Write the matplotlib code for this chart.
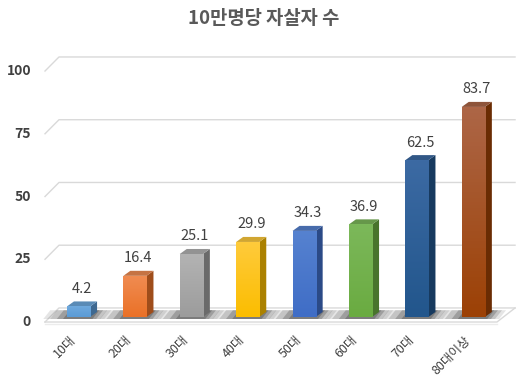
import numpy as np
import matplotlib.pyplot as plt
from matplotlib.patches import Polygon, Rectangle
from matplotlib.colors import to_rgb

plt.rcParams['font.family'] = ['Noto Sans CJK KR', 'DejaVu Sans']

# dados
idades = ['10대', '20대', '30대', '40대', '50대', '60대', '70대', '80대이상']
valores = [4.2, 16.4, 25.1, 29.9, 34.3, 36.9, 62.5, 83.7]
cor_base = ['#5b9bd5', '#ea7127', '#9c9c9c', '#fbbd00', '#3f6dc6', '#6aab41', '#22568c', '#9c4105']
cor_topo = ['#6ea9de', '#f08c52', '#b3b3b3', '#ffcb3c', '#5682d0', '#7cb85a', '#3c6aa3', '#ad6647']
yticks = [0, 25, 50, 75, 100]

# geometria do "3D"
w = 0.41      # largura da face frontal
dx = 0.124    # profundidade em x
dy = 2.0      # profundidade em y
frente = -2.0
fundo = 3.6
x_esq_f, x_esq_t = -0.594, -0.346
x_dir_f, x_dir_t = 7.42, 7.74


def escurece(c, f):
    r, g, b = to_rgb(c)
    return (r * f, g * f, b * f)


fig = plt.figure(figsize=(5.2, 3.82), dpi=100)
ax = fig.add_axes([0, 0, 1, 1])
ax.set_xlim(-1.392, 7.828)
ax.set_ylim(-25.9, 126.3)
ax.axis('off')

# paredes / grade
grade = '#d9d9d9'
for v in yticks:
    ax.plot([x_esq_f, x_esq_t, x_dir_t], [v + frente, v + fundo, v + fundo],
            color=grade, lw=1, zorder=1)
    ax.text(-0.842, v + frente, str(v), ha='right', va='center',
            fontsize=10, fontweight='bold', color='#404040')
ax.plot([x_esq_f, x_dir_f, x_dir_t], [frente, frente, fundo], color=grade, lw=1, zorder=1)
ax.plot([x_esq_f, x_dir_f], [frente - 0.9, frente - 0.9], color='#ececec', lw=1, zorder=1)

# barras
for i, (nome, v) in enumerate(zip(idades, valores)):
    c = i
    x0, x1 = c - w / 2, c + w / 2

    # sombra no piso
    for a, ext in [(0.12, 0.42), (0.18, 0.30), (0.25, 0.18), (0.30, 0.07)]:
        ax.add_patch(Polygon([(x0 - ext, -0.8), (x1 + ext * 0.6, -0.8),
                              (x1 + ext * 0.6 + dx, fundo - 0.9), (x0 - ext + dx, fundo - 0.9)],
                             closed=True, color='#303030', alpha=a, lw=0, zorder=2))

    # face lateral e topo
    ax.add_patch(Polygon([(x1, 0), (x1 + dx, dy), (x1 + dx, v + dy), (x1, v)],
                         closed=True, color=escurece(cor_base[i], 0.68), lw=0, zorder=3))
    ax.add_patch(Polygon([(x0, v), (x1, v), (x1 + dx, v + dy), (x0 + dx, v + dy)],
                         closed=True, color=escurece(cor_topo[i], 0.82), lw=0, zorder=3))

    # face frontal com gradiente
    face = Rectangle((x0, 0), w, v, color=cor_base[i], lw=0, zorder=3)
    ax.add_patch(face)
    c_top = np.array(to_rgb(cor_topo[i]))
    c_bot = np.array(to_rgb(cor_base[i]))
    t = np.linspace(0, 1, 64)[:, None]
    grad = (c_top * (1 - t) + c_bot * t)[:, None, :]
    img = ax.imshow(grad, extent=(x0, x1, 0, v), aspect='auto', origin='upper', zorder=4)
    img.set_clip_path(face)

    # rótulo de valor
    ax.text(c + dx / 2, v + dy + 5.0, f'{v}', ha='center', va='center',
            fontsize=10.5, color='#404040')

    # rótulo do eixo x
    ax.text(c - 0.09, -8.4, nome, rotation=45, rotation_mode='anchor',
            ha='right', va='center', fontsize=9, color='#404040')

ax.set_xlim(-1.392, 7.828)
ax.set_ylim(-25.9, 126.3)

fig.text(264 / 520, 1 - 18 / 382, '10만명당 자살자 수', ha='center', va='center',
         fontsize=13.5, fontweight='bold', color='#595959')

plt.savefig('out.png', dpi=100)
